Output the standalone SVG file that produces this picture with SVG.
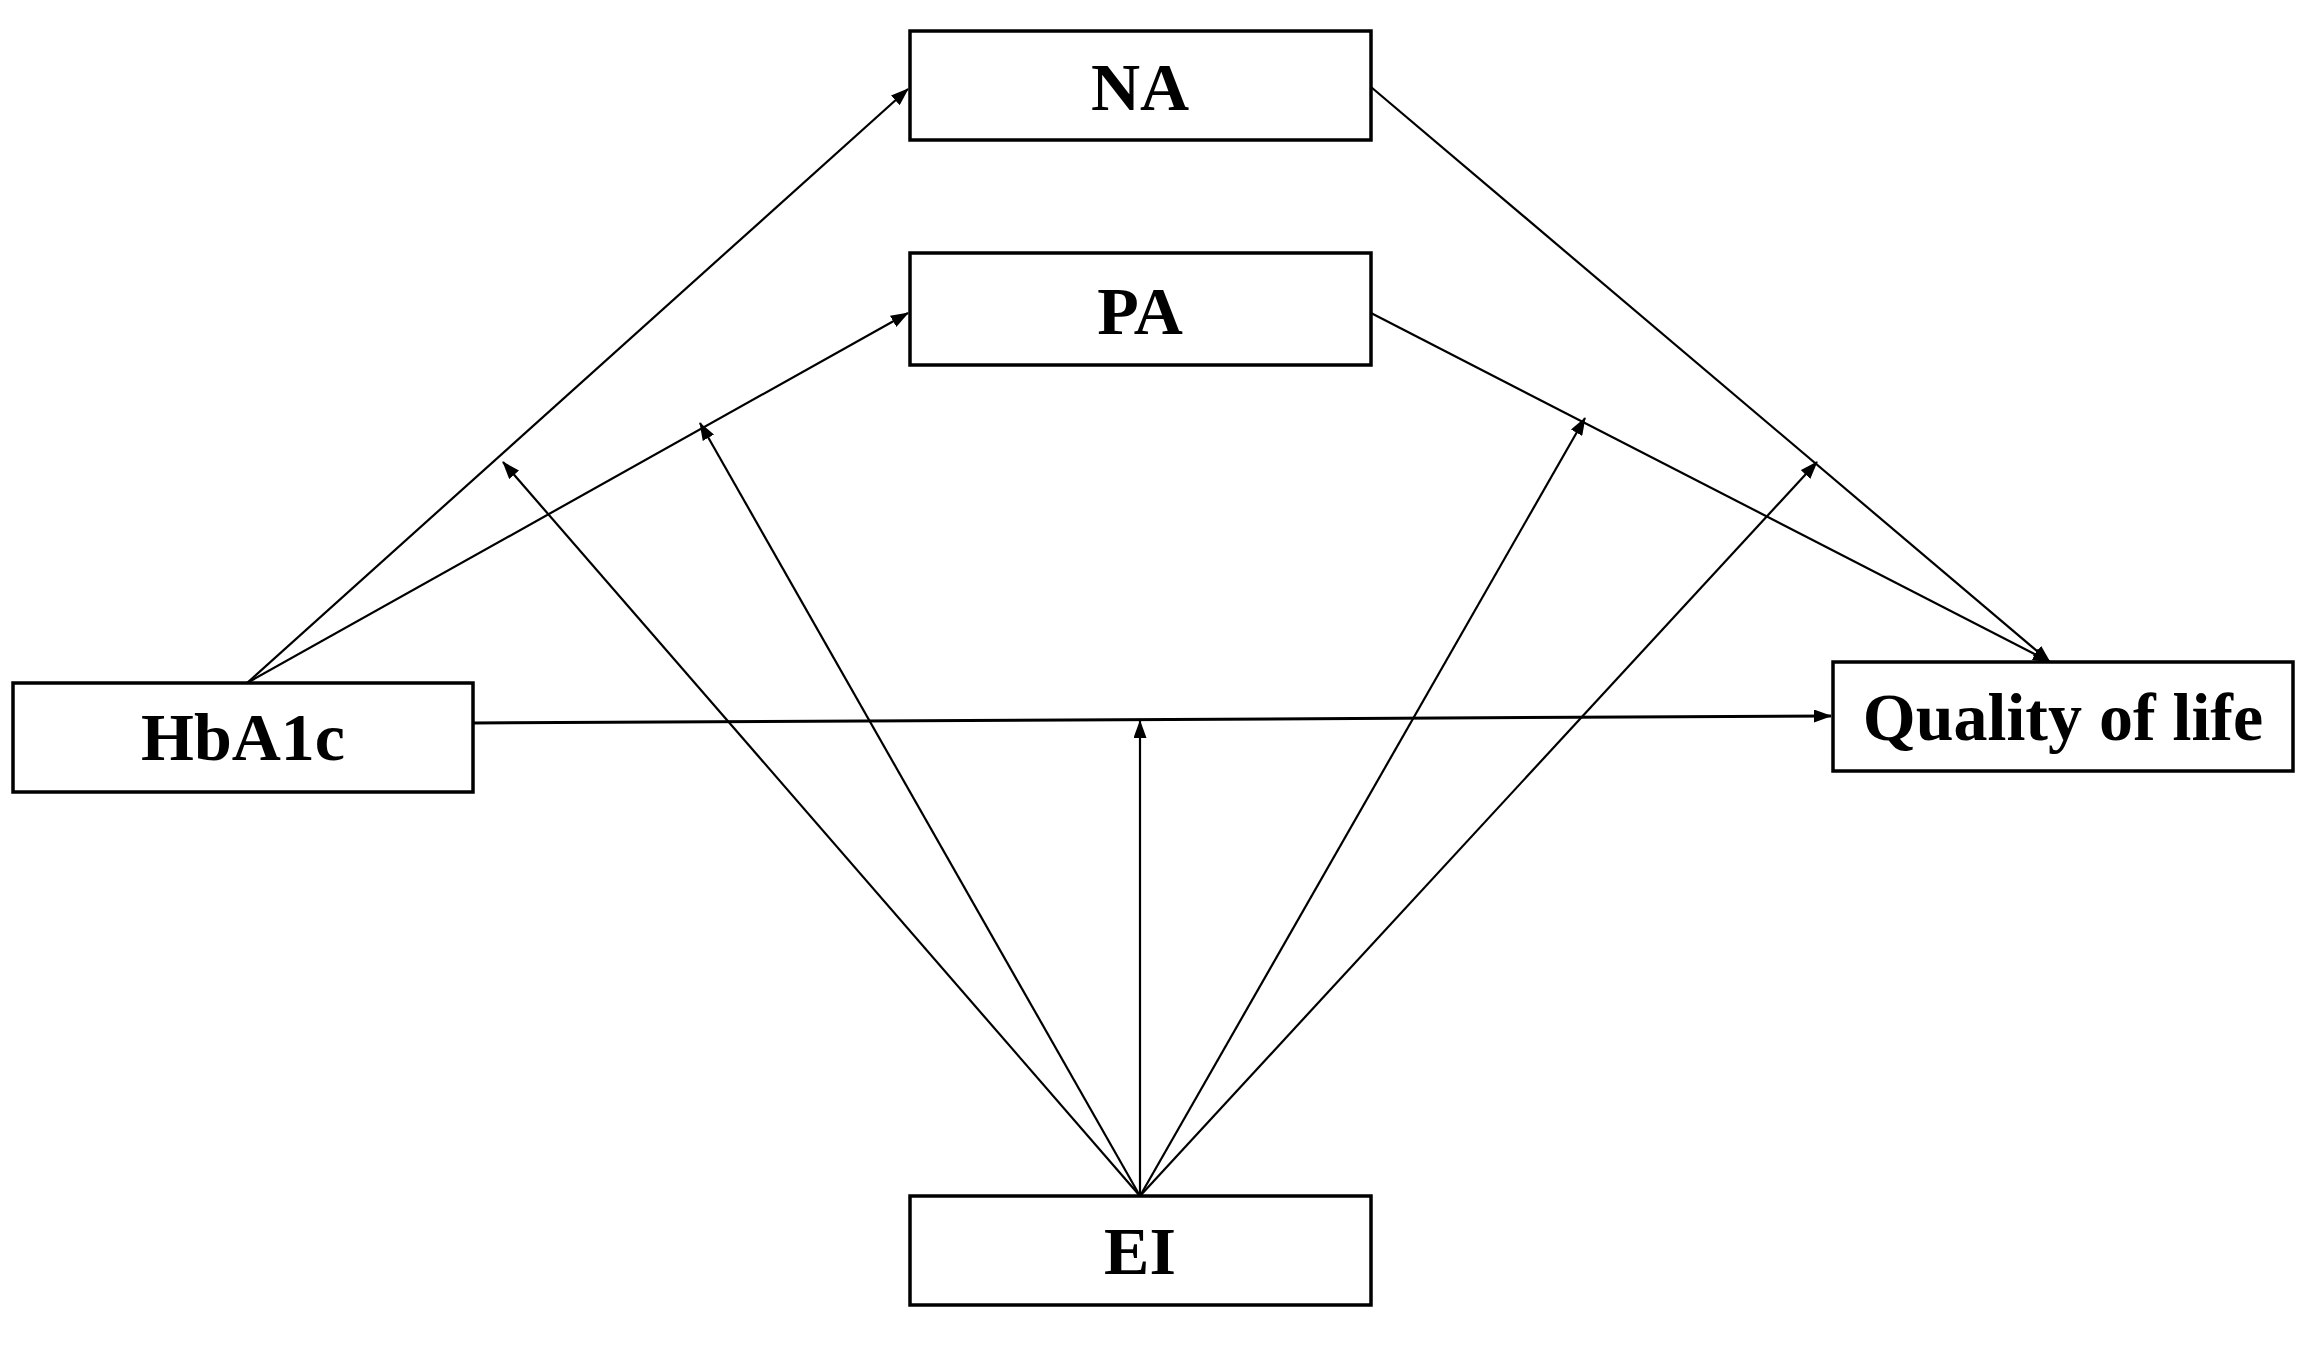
<svg xmlns="http://www.w3.org/2000/svg" width="2320" height="1346" viewBox="0 0 2320 1346">
<style>
.box{fill:#fff;stroke:#000;stroke-width:3.5}
.lbl{font-family:"Liberation Serif","Times New Roman",serif;font-weight:bold;font-size:68px;fill:#000;text-anchor:middle}
.edge{stroke:#000;stroke-width:2.2;fill:none;marker-end:url(#ah)}
</style>
<defs>
<marker id="ah" markerUnits="userSpaceOnUse" markerWidth="18" markerHeight="13" viewBox="0 0 18 13" refX="17" refY="6.5" orient="auto">
<path d="M0,0 L18,6.5 L0,13 Z" fill="#000"/>
</marker>
</defs>
<rect width="2320" height="1346" fill="#fff"/>
<g id="connectors">
<line class="edge" x1="247" y1="683" x2="908" y2="89"/>
<line class="edge" x1="247" y1="683" x2="908" y2="313"/>
<line class="edge" x1="1371" y1="87" x2="2050" y2="662"/>
<line class="edge" x1="1371" y1="313" x2="2050" y2="662"/>
<line class="edge" x1="473" y1="723" x2="1831" y2="716" style="stroke-width:3"/>
<line class="edge" x1="1140" y1="1196" x2="1140" y2="721"/>
<line class="edge" x1="1140" y1="1196" x2="503" y2="462"/>
<line class="edge" x1="1140" y1="1196" x2="700" y2="423"/>
<line class="edge" x1="1140" y1="1196" x2="1585" y2="418"/>
<line class="edge" x1="1140" y1="1196" x2="1817" y2="462"/>
</g>
<g id="node-NA">
<rect class="box" x="910" y="31" width="461" height="109"/>
<text class="lbl" x="1140" y="110">NA</text>
</g>
<g id="node-PA">
<rect class="box" x="910" y="253" width="461" height="112"/>
<text class="lbl" x="1140" y="334">PA</text>
</g>
<g id="node-HbA1c">
<rect class="box" x="13" y="683" width="460" height="109"/>
<text class="lbl" x="243" y="760">HbA1c</text>
</g>
<g id="node-QoL">
<rect class="box" x="1833" y="662" width="460" height="109"/>
<text class="lbl" x="2063" y="740">Quality of life</text>
</g>
<g id="node-EI">
<rect class="box" x="910" y="1196" width="461" height="109"/>
<text class="lbl" x="1140" y="1274">EI</text>
</g>
</svg>
